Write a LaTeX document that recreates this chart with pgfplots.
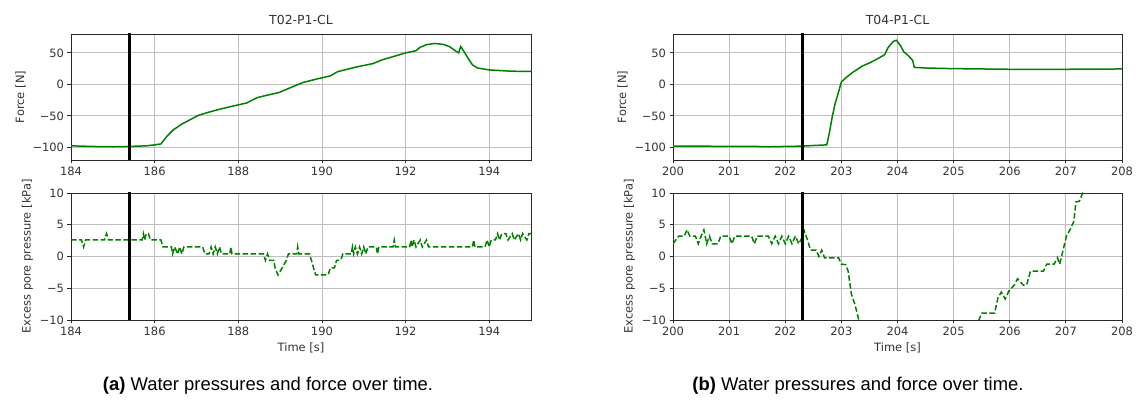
\documentclass[border=0pt]{standalone}
\usepackage{fontspec}
\setmainfont{DejaVu Sans}
\newfontfamily\capfont{Liberation Sans}
\usepackage{pgfplots}
\pgfplotsset{compat=1.18}
\definecolor{mplgreen}{RGB}{0,128,0}
\definecolor{gridgray}{RGB}{190,190,190}
\definecolor{framegray}{RGB}{40,40,40}

\pgfplotsset{
  base/.style={
    scale only axis,
    anchor=south west,
    tick pos=left, tick align=outside,
    major tick length=3.5bp,
    grid=major,
    major grid style={gridgray, line width=0.8bp},
    axis line style={framegray, line width=0.8bp},
    every tick/.style={framegray, line width=0.8bp},
    tick label style={font=\fontsize{11.5}{13}\selectfont, text=black!80},
    label style={font=\fontsize{11.5}{13}\selectfont, text=black!80},
    title style={font=\fontsize{12.5}{14}\selectfont, text=black!80},
    /pgf/number format/assume math mode=true,
    /pgf/number format/1000 sep={},
  },
  forceax/.style={base, height=126bp, ymin=-120, ymax=80,
    ytick={-100,-50,0,50}, yticklabels={−100,−50,0,50}, ylabel={Force [N]}},
  poreax/.style={base, height=127bp, ymin=-10, ymax=10,
    ytick={-10,-5,0,5,10}, yticklabels={−10,−5,0,5,10},
    ylabel={Excess pore pressure [kPa]}, xlabel={Time [s]}},
  fline/.style={mplgreen, line width=1.5bp},
  pline/.style={mplgreen, line width=1.5bp, dash pattern=on 5.5bp off 2.5bp},
  vline/.style={black, line width=3bp},
}

\begin{document}
\begin{tikzpicture}
\useasboundingbox (0,0) rectangle (1137bp,401bp);

% ---------- (a) top ----------
\begin{axis}[forceax, at={(71bp,241bp)}, width=460bp,
  xmin=184, xmax=195, xtick={184,186,...,194}, title={T02-P1-CL}]
\addplot[fline] coordinates {
(184,-97.5) (184.5,-98.5) (185,-99) (185.4,-98.5) (185.8,-97.5) (186.0,-96)
(186.15,-94.5) (186.3,-82) (186.45,-72) (186.65,-63) (186.85,-56) (187.05,-49)
(187.3,-44) (187.55,-39.5) (187.9,-34) (188.2,-29.5) (188.45,-21) (188.7,-17)
(188.97,-13) (189.22,-6) (189.4,-1) (189.55,3) (189.9,9) (190.2,13.5)
(190.37,20) (190.6,24) (190.85,28) (191.22,33) (191.44,39) (191.7,44)
(192.0,50) (192.25,53.5) (192.35,59) (192.5,63) (192.7,65) (192.9,63.5)
(193.05,60) (193.2,53) (193.27,50) (193.32,60) (193.4,52) (193.5,41)
(193.6,31) (193.72,26) (194.0,23) (194.5,21) (195,20.5)
};
\addplot[vline] coordinates {(185.4,-200) (185.4,200)};
\end{axis}

% ---------- (a) bottom ----------
\begin{axis}[poreax, at={(71bp,81bp)}, width=460bp,
  xmin=184, xmax=195, xtick={184,186,...,194}]
\addplot[pline] coordinates {
(184.0,2.6) (184.25,2.6) (184.3,1.5) (184.35,2.6) (184.8,2.6) (184.85,3.6)
(184.9,2.6) (185.7,2.6) (185.73,3.6) (185.76,2.6) (185.8,3.6) (185.85,3.6)
(185.9,2.6) (186.15,2.6) (186.2,1.5) (186.4,1.5) (186.43,0.4) (186.48,1.5)
(186.55,0.4) (186.6,1.5) (186.65,0.4) (186.7,1.5) (187.15,1.5) (187.2,0.4)
(187.3,0.4) (187.35,1.5) (187.4,0.4) (187.45,1.5) (187.5,0.4) (187.55,1.5)
(187.6,0.4) (187.8,0.4) (187.82,1.5) (187.85,0.4) (188.6,0.4) (188.65,-0.6)
(188.7,0.4) (188.75,-0.6) (188.85,-0.6) (188.88,-1.8) (188.95,-2.9) (189.05,-1.8)
(189.15,-0.6) (189.2,0.4) (189.4,0.4) (189.42,1.5) (189.45,0.4) (189.7,0.4)
(189.75,-0.6) (189.8,-1.8) (189.85,-2.9) (190.15,-2.9) (190.2,-1.8) (190.3,-1.8)
(190.35,-0.6) (190.45,-0.6) (190.5,0.4) (190.7,0.4) (190.73,1.5) (190.76,0.4)
(190.8,1.5) (190.85,0.4) (190.9,1.5) (190.95,0.4) (191.0,1.5) (191.05,0.4)
(191.1,1.5) (191.3,1.5) (191.33,0.4) (191.36,1.5) (191.7,1.5) (191.73,2.6)
(191.76,1.5) (192.1,1.5) (192.13,2.6) (192.16,1.5) (192.2,2.6) (192.25,1.5)
(192.35,2.6) (192.4,1.5) (192.5,2.6) (192.55,1.5) (193.6,1.5) (193.63,2.6)
(193.66,1.5) (193.9,1.5) (193.95,2.6) (194.0,1.5) (194.05,2.6) (194.15,2.6)
(194.2,3.6) (194.25,2.6) (194.3,3.6) (194.4,3.6) (194.45,2.6) (194.55,3.6)
(194.6,2.6) (194.7,3.6) (194.75,2.6) (194.8,3.6) (194.9,2.6) (194.95,3.6)
(195,3.6)
};
\addplot[vline] coordinates {(185.4,-20) (185.4,20)};
\end{axis}

% ---------- (b) top ----------
\begin{axis}[forceax, at={(673bp,241bp)}, width=449bp,
  xmin=200, xmax=208, xtick={200,...,208}, title={T04-P1-CL}]
\addplot[fline] coordinates {
(200,-98) (200.5,-98) (201,-98.5) (201.5,-98.5) (201.7,-99) (202,-98.5)
(202.3,-98) (202.5,-97) (202.74,-96) (202.79,-75) (202.84,-50) (202.89,-30)
(202.95,-12) (203.0,4) (203.1,12) (203.2,19) (203.37,29) (203.5,34)
(203.63,40) (203.77,47) (203.83,58) (203.92,68) (203.98,70) (204.05,62)
(204.11,52) (204.2,45) (204.27,38) (204.3,27) (204.5,26) (205,25)
(205.5,24.5) (206,24) (207,24) (208,24.5)
};
\addplot[vline] coordinates {(202.3,-200) (202.3,200)};
\end{axis}

% ---------- (b) bottom ----------
\begin{axis}[poreax, at={(673bp,81bp)}, width=449bp,
  xmin=200, xmax=208, xtick={200,...,208}]
\addplot[pline] coordinates {
(200.0,2) (200.1,3.2) (200.2,3.2) (200.25,4.2) (200.3,3.2) (200.4,3.2)
(200.45,2) (200.5,3.2) (200.55,4.2) (200.6,2) (200.65,3.2) (200.7,2)
(200.8,2) (200.85,3.2) (201.0,3.2) (201.05,2) (201.1,3.2) (201.4,3.2)
(201.45,2) (201.5,3.2) (201.7,3.2) (201.76,2) (201.82,3.2) (201.88,2)
(201.94,3.2) (202.0,2) (202.06,3.2) (202.12,2) (202.18,3.2) (202.24,2)
(202.3,3) (202.34,4) (202.4,2.5) (202.45,1) (202.55,1) (202.6,0)
(202.65,1) (202.7,-0.2) (202.95,-0.2) (203.0,-1.2) (203.08,-1.3) (203.12,-2.3)
(203.18,-6) (203.24,-7.5) (203.31,-10) (203.4,-12)
(205.4,-12) (205.45,-10) (205.5,-8.9) (205.73,-8.9) (205.79,-6.5) (205.85,-5.6)
(205.92,-6.7) (205.98,-5.5) (206.08,-4.5) (206.14,-3.5) (206.24,-4.5) (206.3,-4.5)
(206.37,-2.3) (206.6,-2.3) (206.66,-1.2) (206.79,-1.2) (206.85,-0.2) (206.89,-1.2)
(206.95,1) (207.01,3.2) (207.08,4.3) (207.14,5.5) (207.18,8.6) (207.24,8.7)
(207.3,10) (207.4,12)
};
\addplot[vline] coordinates {(202.3,-20) (202.3,20)};
\end{axis}

% ---------- captions ----------
\node[anchor=base, font=\capfont\fontsize{18.5}{21}\selectfont] at (268bp,11bp)
  {\textbf{(a)} Water pressures and force over time.};
\node[anchor=base, font=\capfont\fontsize{18.5}{21}\selectfont] at (858bp,11bp)
  {\textbf{(b)} Water pressures and force over time.};
\end{tikzpicture}
\end{document}
